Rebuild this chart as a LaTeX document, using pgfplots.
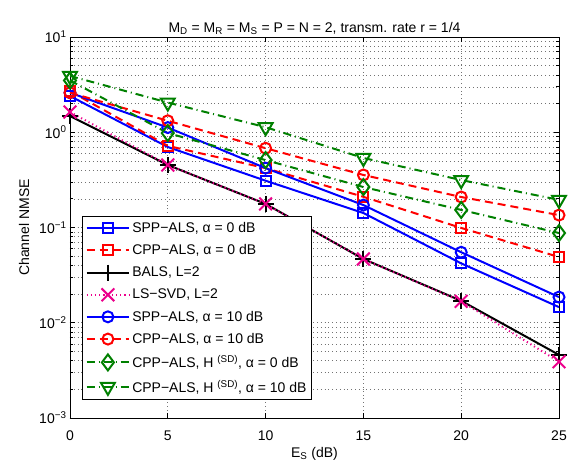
\documentclass[border=0pt]{standalone}
\usepackage{fontspec}
\setmainfont{Liberation Sans}
\setsansfont{Liberation Sans}
\usepackage{pgfplots}
\pgfplotsset{compat=1.18}
\definecolor{mgreen}{rgb}{0,0.5,0}
\newcommand{\fs}{\fontsize{14}{16}\selectfont}

\begin{document}
\begin{tikzpicture}
\begin{axis}[
  scale only axis,
  width=489pt, height=381pt,
  ymode=log,
  xmin=0, xmax=25, ymin=1e-3, ymax=1e1,
  xtick={0,5,10,15,20,25},
  ytick={1e-3,1e-2,1e-1,1e0,1e1},
  yticklabels={10\textsuperscript{−3},10\textsuperscript{−2},10\textsuperscript{−1},10\textsuperscript{0},10\textsuperscript{1}},
  /pgf/number format/assume math mode=true,
  tick label style={font=\fs},
  xticklabel style={yshift=-9pt},
  minor x tick num=0,
  grid=both,
  major grid style={dash pattern=on 0.6pt off 3.2pt, black!55, line width=0.6pt},
  minor grid style={dash pattern=on 0.6pt off 3.2pt, black!55, line width=0.6pt},
  axis line style={line width=0.7pt},
  tick style={black, line width=0.7pt},
  major tick length=5pt, minor tick length=3pt,
  title={M\textsubscript{D} = M\textsubscript{R} = M\textsubscript{S} = P = N = 2, transm. rate r = 1/4},
  title style={font=\fs, yshift=-7pt},
  xlabel={E\textsubscript{S} (dB)},
  xlabel style={font=\fs, yshift=0pt},
  ylabel={Channel NMSE},
  ylabel style={font=\fs, yshift=3pt},
  legend cell align=left,
  legend style={at={(0.025,0.047)}, anchor=south west, draw=black, line width=0.7pt,
    row sep=6.6pt, inner ysep=4pt, inner xsep=3pt, font=\fs},
  legend image code/.code={\draw[mark repeat=2, mark phase=2] plot coordinates {(0cm,0cm) (0.75cm,0cm) (1.5cm,0cm)};},
  every axis plot/.append style={line width=2pt},
]
% SPP-ALS, alpha = 0 dB
\addplot[blue, solid, mark=square, mark size=5pt, mark options={solid}] coordinates {
  (0,2.4) (5,0.70) (10,0.31) (15,0.142) (20,0.042) (25,0.0146)};
% CPP-ALS, alpha = 0 dB
\addplot[red, dash pattern=on 8pt off 5pt, mark=square, mark size=5pt, mark options={solid}] coordinates {
  (0,2.7) (5,0.72) (10,0.42) (15,0.21) (20,0.099) (25,0.049)};
% BALS, L=2
\addplot[black, solid, mark=+, mark size=8pt, mark options={solid}] coordinates {
  (0,1.48) (5,0.453) (10,0.177) (15,0.0467) (20,0.017) (25,0.0046)};
% LS-SVD, L=2
\addplot[magenta, dash pattern=on 1.2pt off 3pt, mark=x, mark size=9pt, mark options={solid}] coordinates {
  (0,1.63) (5,0.453) (10,0.177) (15,0.0467) (20,0.0168) (25,0.0039)};
% SPP-ALS, alpha = 10 dB
\addplot[blue, solid, mark=o, mark size=5.5pt, mark options={solid}] coordinates {
  (0,2.6) (5,1.12) (10,0.42) (15,0.172) (20,0.055) (25,0.0186)};
% CPP-ALS, alpha = 10 dB
\addplot[red, dash pattern=on 8pt off 5pt, mark=o, mark size=5.5pt, mark options={solid}] coordinates {
  (0,2.6) (5,1.32) (10,0.68) (15,0.356) (20,0.209) (25,0.135)};
% CPP-ALS, H(SD), alpha = 0 dB
\addplot[mgreen, dash pattern=on 8pt off 4pt on 1pt off 4pt, mark=diamond, mark size=8pt, mark options={solid}] coordinates {
  (0,3.5) (5,0.98) (10,0.51) (15,0.266) (20,0.153) (25,0.0875)};
% CPP-ALS, H(SD), alpha = 10 dB
\addplot[mgreen, dash pattern=on 8pt off 4pt on 1pt off 4pt, mark=triangle, mark size=8pt, mark options={solid, rotate=180}] coordinates {
  (0,3.9) (5,2.05) (10,1.13) (15,0.537) (20,0.315) (25,0.195)};
\legend{{SPP−ALS, α = 0 dB}, {CPP−ALS, α = 0 dB}, {BALS, L=2}, {LS−SVD, L=2},
  {SPP−ALS, α = 10 dB}, {CPP−ALS, α = 10 dB},
  {CPP−ALS, H \textsuperscript{(SD)}, α = 0 dB}, {CPP−ALS, H \textsuperscript{(SD)}, α = 10 dB}}
\end{axis}
\path ([shift={(-70pt,-52pt)}]current axis.south west) rectangle ([shift={(19pt,37pt)}]current axis.north east);
\end{tikzpicture}
\end{document}
